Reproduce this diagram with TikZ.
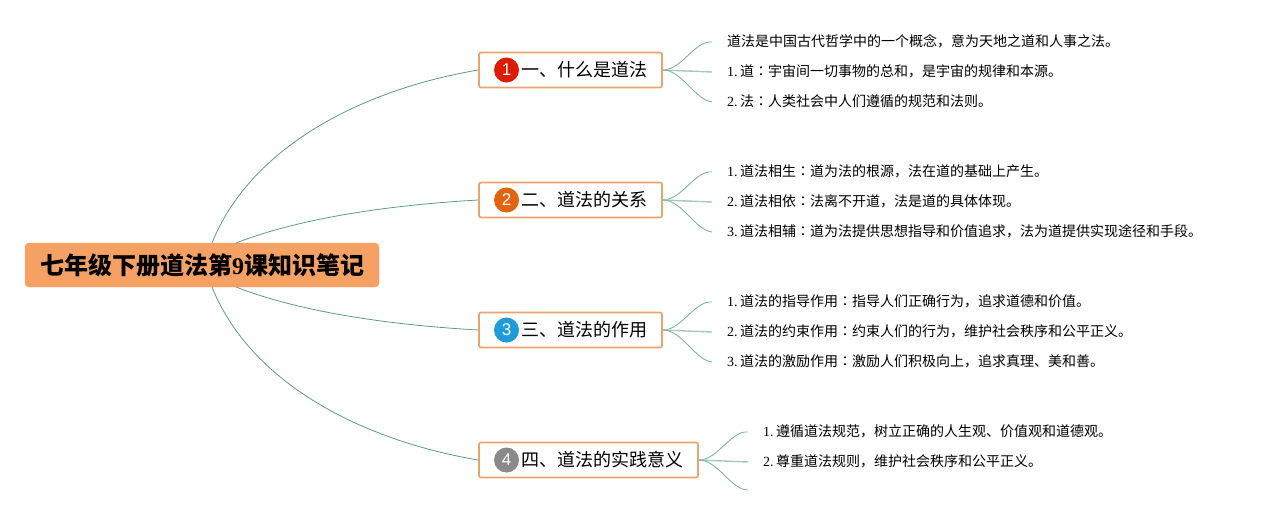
\documentclass[tikz,border=0pt]{standalone}
\usepackage{fontspec}
\setmainfont{Liberation Serif}
\setsansfont{Liberation Sans}
\newfontfamily\cjk{Noto Sans CJK SC}
\newfontfamily\cjkcolon{Noto Sans CJK TC}
\newcommand{\cln}{{\cjkcolon ：}}
\newcommand{\num}[1]{#1.\hspace{2.5pt}}
\definecolor{rootfill}{HTML}{F4A163}
\definecolor{boxline}{HTML}{E9A36D}
\definecolor{rootline}{HTML}{5E9A88}
\definecolor{leafline}{HTML}{7FB3A2}
\definecolor{midline}{HTML}{A3CABC}
\definecolor{badgered}{HTML}{DD1B00}
\definecolor{badgeorange}{HTML}{E2640F}
\definecolor{badgeblue}{HTML}{1E9BD8}
\definecolor{badgegray}{HTML}{8A8A8A}
\tikzset{
	rootbox/.style={draw=rootfill,fill=rootfill,rounded corners=4pt,minimum width=354pt,minimum height=44pt,inner sep=0pt,font=\fontsize{24}{28}\selectfont},
	branchbox/.style={draw=boxline,line width=1.6pt,fill=white,rounded corners=2pt,minimum height=35pt,inner sep=0pt,font=\cjk\fontsize{18}{22}\selectfont},
	badge/.style={circle,minimum size=25pt,inner sep=0pt,text=white,font=\sffamily\fontsize{17}{20}\selectfont},
	leaf/.style={anchor=west,inner ysep=0pt,inner xsep=15pt,font=\fontsize{14}{17}\selectfont},
	rootedge/.style={draw=rootline,line width=0.8pt},
	leafedge/.style={draw=leafline,line width=0.9pt},
	midedge/.style={draw=midline,line width=1.4pt}
}
\begin{document}
\begin{tikzpicture}[x=1pt,y=-1pt]
	\useasboundingbox (0,0) rectangle (1263,515);
	% connectors from the root
	\coordinate (rootA) at (212,243);
	\coordinate (rootB) at (236,243);
	\coordinate (rootC) at (236,287);
	\coordinate (rootD) at (212,287);
	\node[rootbox] (root) at (202,265) {\raisebox{-1.2pt}{{\cjk\bfseries 七年级下册道法第}{\bfseries 9}{\cjk\bfseries 课知识笔记}}};
	\node[branchbox,minimum width=183pt] (branchA) at (570.5,70) {\hspace{27pt}\raisebox{-1.2pt}{一、什么是道法}};
	\node[branchbox,minimum width=183pt] (branchB) at (570.5,200) {\hspace{27pt}\raisebox{-1.2pt}{二、道法的关系}};
	\node[branchbox,minimum width=183pt] (branchC) at (570.5,330) {\hspace{27pt}\raisebox{-1.2pt}{三、道法的作用}};
	\node[branchbox,minimum width=219pt] (branchD) at (588.5,460) {\hspace{27pt}\raisebox{-1.2pt}{四、道法的实践意义}};
	\node[badge,fill=badgered] (badgeA) at (506.5,70) {1};
	\node[badge,fill=badgeorange] (badgeB) at (506.5,200) {2};
	\node[badge,fill=badgeblue] (badgeC) at (506.5,330) {3};
	\node[badge,fill=badgegray] (badgeD) at (506.5,460) {4};
	\draw[rootedge] (rootA) .. controls (250,148) and (360,90) .. (branchA.west);
	\draw[rootedge] (rootB) .. controls (300,218) and (390,205) .. (branchB.west);
	\draw[rootedge] (rootC) .. controls (300,312) and (390,325) .. (branchC.west);
	\draw[rootedge] (rootD) .. controls (250,382) and (360,440) .. (branchD.west);
	% first branch
	\node[leaf] (leafAa) at (712,41) {\cjk 道法是中国古代哲学中的一个概念，意为天地之道和人事之法。};
	\node[leaf] (leafAb) at (712,71) {\num{1}{\cjk 道\cln 宇宙间一切事物的总和，是宇宙的规律和本源。}};
	\node[leaf] (leafAc) at (712,101) {\num{2}{\cjk 法\cln 人类社会中人们遵循的规范和法则。}};
	% second branch
	\node[leaf] (leafBa) at (712,171) {\num{1}{\cjk 道法相生\cln 道为法的根源，法在道的基础上产生。}};
	\node[leaf] (leafBb) at (712,201) {\num{2}{\cjk 道法相依\cln 法离不开道，法是道的具体体现。}};
	\node[leaf] (leafBc) at (712,231) {\num{3}{\cjk 道法相辅\cln 道为法提供思想指导和价值追求，法为道提供实现途径和手段。}};
	% third branch
	\node[leaf] (leafCa) at (712,301) {\num{1}{\cjk 道法的指导作用\cln 指导人们正确行为，追求道德和价值。}};
	\node[leaf] (leafCb) at (712,331) {\num{2}{\cjk 道法的约束作用\cln 约束人们的行为，维护社会秩序和公平正义。}};
	\node[leaf] (leafCc) at (712,361) {\num{3}{\cjk 道法的激励作用\cln 激励人们积极向上，追求真理、美和善。}};
	% fourth branch
	\node[leaf] (leafDa) at (748,431) {\num{1}{\cjk 遵循道法规范，树立正确的人生观、价值观和道德观。}};
	\node[leaf] (leafDb) at (748,461) {\num{2}{\cjk 尊重道法规则，维护社会秩序和公平正义。}};
	\coordinate (leafDc) at (748,490);
	% leaf connectors
	\draw[leafedge] (branchA.east) .. controls (682,70) and (695,40) .. ([yshift=-1pt]leafAa.west);
	\draw[midedge] (branchA.east) -- ([yshift=-1pt]leafAb.west);
	\draw[leafedge] (branchA.east) .. controls (682,70) and (695,100) .. ([yshift=-1pt]leafAc.west);
	\draw[leafedge] (branchB.east) .. controls (682,200) and (695,170) .. ([yshift=-1pt]leafBa.west);
	\draw[midedge] (branchB.east) -- ([yshift=-1pt]leafBb.west);
	\draw[leafedge] (branchB.east) .. controls (682,200) and (695,230) .. ([yshift=-1pt]leafBc.west);
	\draw[leafedge] (branchC.east) .. controls (682,330) and (695,300) .. ([yshift=-1pt]leafCa.west);
	\draw[midedge] (branchC.east) -- ([yshift=-1pt]leafCb.west);
	\draw[leafedge] (branchC.east) .. controls (682,330) and (695,360) .. ([yshift=-1pt]leafCc.west);
	\draw[leafedge] (branchD.east) .. controls (718,460) and (731,430) .. ([yshift=-1pt]leafDa.west);
	\draw[midedge] (branchD.east) -- ([yshift=-1pt]leafDb.west);
	\draw[leafedge] (branchD.east) .. controls (718,460) and (731,490) .. (leafDc);
\end{tikzpicture}
\end{document}
